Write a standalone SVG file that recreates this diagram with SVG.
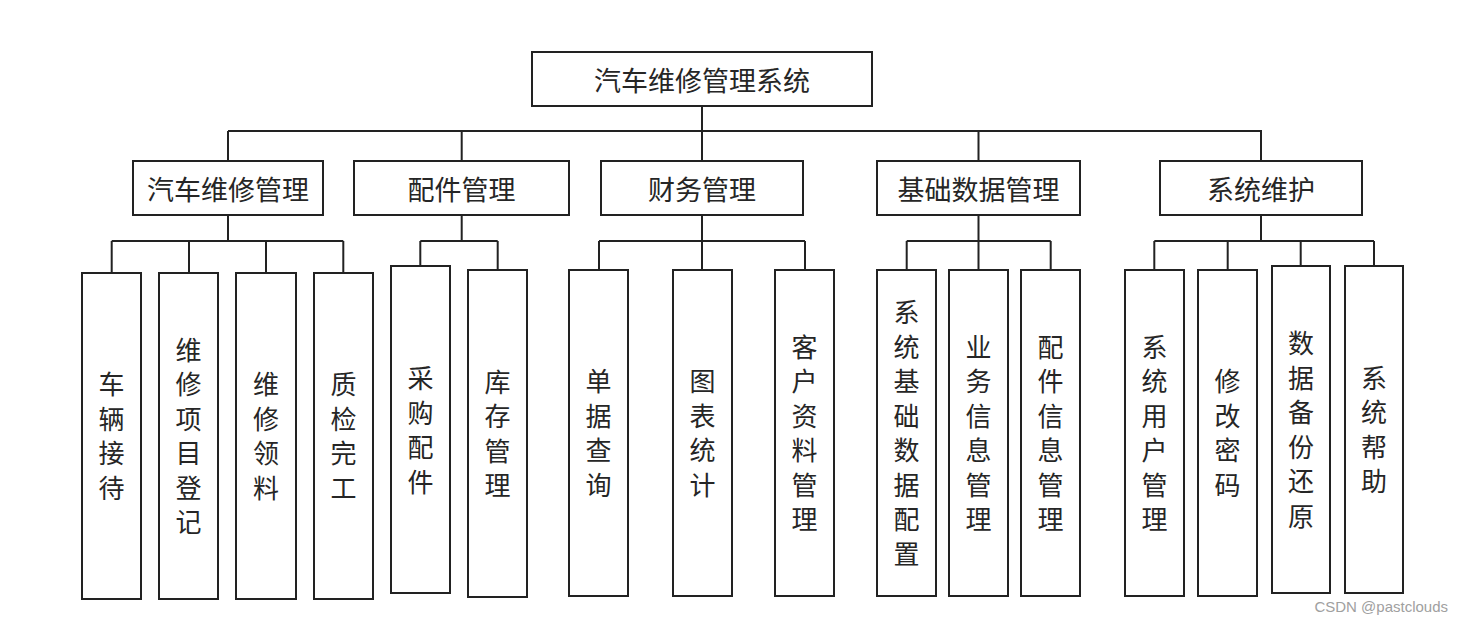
<svg xmlns="http://www.w3.org/2000/svg" width="1464" height="624" viewBox="0 0 1464 624">
<style>
  .box { fill: #ffffff; stroke: #222222; stroke-width: 2; }
  .conn { fill: none; stroke: #222222; stroke-width: 2; }
  .t { font-family: "Noto Sans CJK SC", "Noto Sans", sans-serif; font-size: 27px; fill: #262626; text-anchor: middle; dominant-baseline: central; }
  .v { font-family: "Noto Sans CJK SC", "Noto Sans", sans-serif; font-size: 26px; fill: #262626; text-anchor: middle; writing-mode: vertical-rl; letter-spacing: 8.5px; }
  .wm { font-family: "Liberation Sans", Arial, sans-serif; font-size: 15px; fill: #a0a0a0; }
</style>
<rect width="1464" height="624" fill="#ffffff"/>
<g id="connectors">
  <path class="conn" d="M702 106 V161 M228 131 H1262 M228 131 V161 M461.7 131 V161 M978.5 131 V161 M1261 131 V161"/>
  <path class="conn" d="M228 215 V241 M111.7 241 H343.3 M111.7 241 V273 M189 241 V273 M266 241 V273 M343.3 241 V273"/>
  <path class="conn" d="M461.7 215 V241 M420.3 241 H497.7 M420.3 241 V266 M497.7 241 V270"/>
  <path class="conn" d="M702 215 V241 M599 241 H805 M599 241 V270 M702 241 V270 M805 241 V270"/>
  <path class="conn" d="M978.5 215 V241 M906.7 241 H1050.7 M906.7 241 V270 M978.5 241 V270 M1050.7 241 V270"/>
  <path class="conn" d="M1261 215 V241 M1154.3 241 H1374 M1154.3 241 V270 M1227.7 241 V270 M1300.7 241 V266 M1374 241 V266"/>
</g>
<g id="root"><rect class="box" x="532" y="52" width="340" height="54"/><text class="t" x="702" y="79">汽车维修管理系统</text></g>
<g id="n-repair"><rect class="box" x="133" y="161" width="190" height="54"/><text class="t" x="228" y="188">汽车维修管理</text></g>
<g id="n-parts"><rect class="box" x="354" y="161" width="215" height="54"/><text class="t" x="461.5" y="188">配件管理</text></g>
<g id="n-finance"><rect class="box" x="601" y="161" width="202" height="54"/><text class="t" x="702" y="188">财务管理</text></g>
<g id="n-basedata"><rect class="box" x="877" y="161" width="203" height="54"/><text class="t" x="978.5" y="188">基础数据管理</text></g>
<g id="n-sysmaint"><rect class="box" x="1160" y="161" width="202" height="54"/><text class="t" x="1261" y="188">系统维护</text></g>

<g id="l-reception"><rect class="box" x="82" y="273" width="59" height="326"/><text class="v" x="111.5" y="440.25">车辆接待</text></g>
<g id="l-register"><rect class="box" x="159" y="273" width="59" height="326"/><text class="v" x="188.5" y="440.25">维修项目登记</text></g>
<g id="l-material"><rect class="box" x="236" y="273" width="60" height="326"/><text class="v" x="266" y="440.25">维修领料</text></g>
<g id="l-qc"><rect class="box" x="314" y="273" width="59" height="326"/><text class="v" x="343.5" y="440.25">质检完工</text></g>
<g id="l-purchase"><rect class="box" x="391" y="266" width="59" height="327"/><text class="v" x="420.5" y="434.25">采购配件</text></g>
<g id="l-stock"><rect class="box" x="468" y="270" width="59" height="327"/><text class="v" x="497.5" y="437.75">库存管理</text></g>
<g id="l-query"><rect class="box" x="569" y="270" width="59" height="326"/><text class="v" x="598.5" y="437.25">单据查询</text></g>
<g id="l-chart"><rect class="box" x="673" y="270" width="59" height="326"/><text class="v" x="702.5" y="437.25">图表统计</text></g>
<g id="l-customer"><rect class="box" x="775" y="270" width="59" height="326"/><text class="v" x="804.5" y="437.25">客户资料管理</text></g>
<g id="l-sysbase"><rect class="box" x="877" y="270" width="59" height="326"/><text class="v" x="906.5" y="437.25">系统基础数据配置</text></g>
<g id="l-business"><rect class="box" x="949" y="270" width="59" height="326"/><text class="v" x="978.5" y="437.25">业务信息管理</text></g>
<g id="l-partsinfo"><rect class="box" x="1021" y="270" width="59" height="326"/><text class="v" x="1050.5" y="437.25">配件信息管理</text></g>
<g id="l-users"><rect class="box" x="1125" y="270" width="59" height="326"/><text class="v" x="1154.5" y="437.25">系统用户管理</text></g>
<g id="l-password"><rect class="box" x="1198" y="270" width="59" height="326"/><text class="v" x="1227.5" y="437.25">修改密码</text></g>
<g id="l-backup"><rect class="box" x="1272" y="266" width="58" height="327"/><text class="v" x="1301" y="433.75">数据备份还原</text></g>
<g id="l-help"><rect class="box" x="1345" y="266" width="58" height="327"/><text class="v" x="1374" y="433.75">系统帮助</text></g>

<text class="wm" x="1448" y="612" text-anchor="end">CSDN @pastclouds</text>
</svg>
